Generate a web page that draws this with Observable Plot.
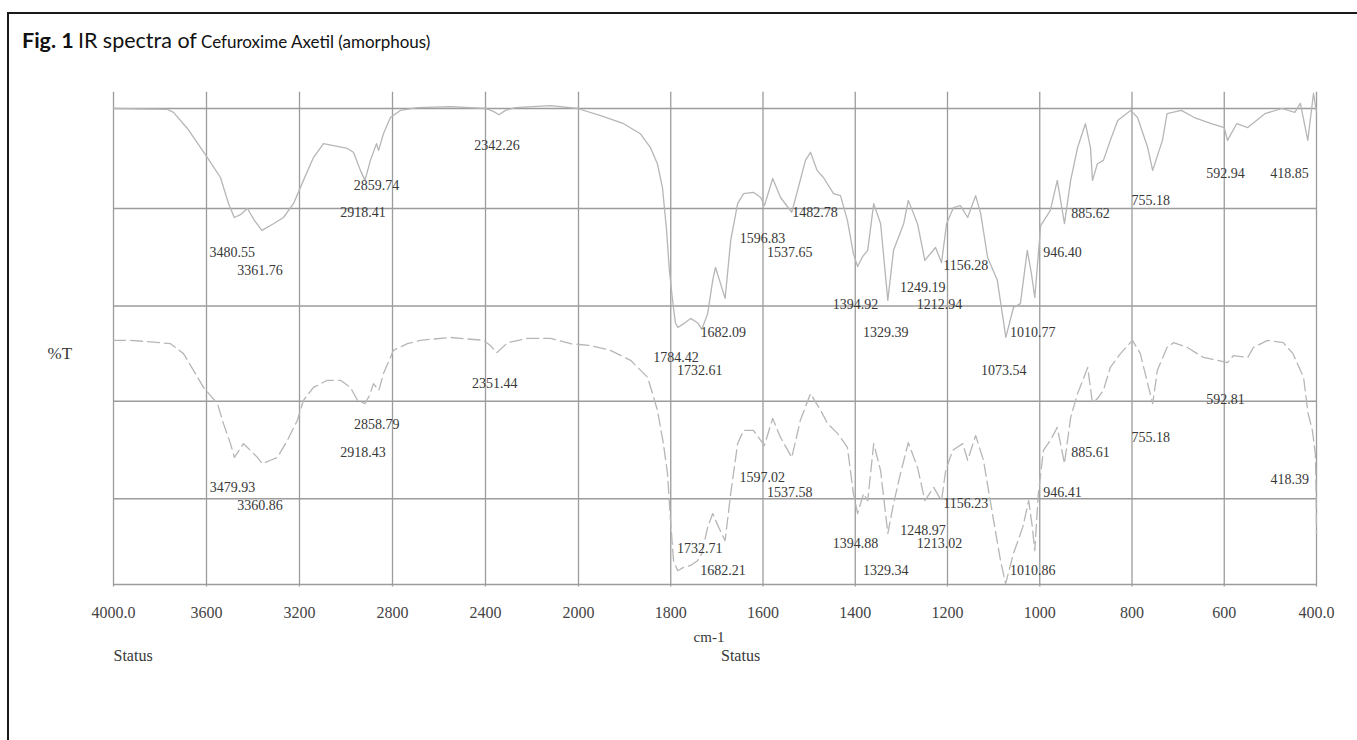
<!DOCTYPE html>
<html>
<head>
<meta charset="utf-8">
<script src="https://cdn.jsdelivr.net/npm/d3@7"></script>
<script src="https://cdn.jsdelivr.net/npm/@observablehq/plot@0.6"></script>
<style>
  html, body { margin: 0; padding: 0; background: #fff; width: 1357px; height: 740px; overflow: hidden; }
  #frame { position: absolute; left: 7px; top: 12px; width: 1400px; height: 800px; z-index: 2;
           border-top: 2px solid #1a1a1a; border-left: 2px solid #1a1a1a; pointer-events: none; }
  #title { position: absolute; left: 22px; top: 27px; font-family: Lato, "Open Sans", sans-serif;
           color: #111; white-space: nowrap; }
  #title .big { font-size: 21.5px; }
  #title .small { font-size: 17px; }
  #chart { position: absolute; left: 0; top: 70px; }
</style>
</head>
<body>
<div id="frame"></div>
<div id="title"><b class="big">Fig. 1</b> <span class="big">IR spectra of</span> <span class="small">Cefuroxime Axetil (amorphous)</span></div>
<div id="chart"></div>
<script>
// Wavenumber axis (cm-1): 4000–2000 compressed, 2000–400 expanded
const wavenumberTicks = [4000, 3600, 3200, 2800, 2400, 2000, 1800, 1600, 1400, 1200, 1000, 800, 600, 400];
const tickLabels = ["4000.0", "3600", "3200", "2800", "2400", "2000", "1800", "1600", "1400", "1200", "1000", "800", "600", "400.0"];
const gridT = [0, 18, 38.5, 58.5, 79, 100];

// Upper trace (solid)
const upperWn = [4000, 3768, 3742, 3682, 3596, 3540, 3505, 3480.55, 3454, 3424, 3394, 3361.76, 3312, 3269, 3226, 3183, 3140, 3097, 3054, 2994, 2968, 2938, 2918.41, 2895, 2869, 2859.74, 2839, 2809, 2766, 2692, 2551, 2400, 2366, 2342.26, 2314, 2271, 2121, 2004, 1952, 1902, 1866, 1844, 1829, 1818, 1809, 1803, 1796, 1790, 1784.42, 1772, 1757, 1742, 1732.61, 1720, 1709, 1703, 1692, 1682.09, 1670, 1655, 1642, 1621, 1605, 1596.83, 1579, 1562, 1537.65, 1525, 1508, 1497, 1482.78, 1469, 1447, 1432, 1417, 1404, 1394.92, 1384, 1373, 1360, 1345, 1329.39, 1317, 1295, 1285, 1265, 1249.19, 1226, 1212.94, 1202, 1187, 1172, 1156.28, 1139, 1128, 1113, 1092, 1079, 1073.54, 1057, 1042, 1027, 1018, 1010.77, 998, 977, 962, 946.40, 933, 918, 901, 890, 885.62, 875, 862, 847, 831, 803, 788, 766, 755.18, 734, 724, 693, 665, 628, 600, 592.94, 573, 549, 512, 475, 447, 435, 418.85, 406.5, 400];
const upperT = [100.0, 99.8, 99.2, 95.8, 89.7, 85.5, 80.0, 77.1, 77.7, 79.0, 76.5, 74.4, 75.8, 77.1, 80.0, 84.9, 89.7, 92.6, 92.2, 91.6, 90.8, 87.0, 84.9, 89.1, 92.6, 91.2, 94.7, 98.1, 99.6, 100.2, 100.4, 100.0, 99.4, 98.7, 99.6, 100.2, 100.6, 100.0, 98.5, 96.8, 94.7, 91.8, 88.4, 83.4, 74.4, 66.0, 59.7, 55.0, 54.0, 54.8, 55.9, 55.0, 53.6, 56.9, 63.9, 66.6, 63.2, 60.1, 72.3, 80.0, 82.1, 82.4, 81.3, 79.6, 85.3, 81.3, 78.2, 82.8, 89.1, 90.8, 87.0, 85.5, 82.1, 81.7, 76.5, 69.5, 66.8, 68.9, 70.2, 80.0, 75.8, 59.7, 70.2, 75.8, 80.7, 75.8, 68.1, 70.8, 67.6, 75.8, 79.2, 79.6, 77.1, 81.7, 77.9, 68.7, 63.9, 55.5, 51.9, 58.2, 59.0, 70.2, 65.3, 60.3, 75.4, 78.6, 84.9, 75.8, 84.9, 91.8, 96.8, 91.8, 84.9, 88.4, 89.1, 93.3, 97.5, 99.6, 98.1, 91.8, 87.0, 93.3, 98.9, 99.6, 98.1, 96.8, 96.0, 93.3, 96.8, 96.0, 98.9, 100.0, 99.2, 101.1, 93.3, 103.2, 99.2];

// Lower trace (dashed)
const lowerWn = [4000, 3927, 3798, 3755, 3699, 3656, 3613, 3553, 3527, 3497, 3479.93, 3441, 3424, 3381, 3360.86, 3325, 3295, 3252, 3209, 3183, 3140, 3080, 3024, 2981, 2951, 2918.43, 2899, 2882, 2858.79, 2839, 2796, 2736, 2680, 2551, 2409, 2379, 2351.44, 2305, 2219, 2120, 2034, 1974, 1931, 1887, 1850, 1837, 1829, 1816, 1807, 1801, 1794, 1785, 1772, 1757, 1742, 1732.71, 1720, 1709, 1696, 1682.21, 1670, 1655, 1642, 1621, 1605, 1597.02, 1579, 1562, 1537.58, 1519, 1497, 1475, 1460, 1438, 1417, 1404, 1394.88, 1382, 1373, 1360, 1345, 1329.34, 1317, 1302, 1285, 1265, 1248.97, 1230, 1213.02, 1204, 1189, 1167, 1156.23, 1139, 1122, 1100, 1085, 1074, 1057, 1037, 1024, 1016, 1010.86, 1003, 992, 977, 962, 946.41, 933, 918, 896, 885.61, 873, 862, 847, 825, 799, 782, 766, 755.18, 745, 724, 710, 680, 645, 615, 592.81, 580, 549, 537, 506, 472, 451, 428, 418.39, 409, 402.6, 401, 400];
const lowerT = [51.3, 51.3, 50.8, 50.6, 48.5, 45.0, 41.4, 38.0, 33.8, 29.6, 26.7, 29.6, 28.8, 26.7, 25.4, 26.1, 26.7, 30.3, 34.5, 38.7, 41.4, 42.9, 42.9, 41.4, 38.7, 38.0, 39.7, 42.2, 40.8, 44.3, 49.2, 50.6, 51.3, 51.9, 51.3, 50.2, 48.7, 50.8, 51.7, 51.7, 50.6, 50.2, 49.2, 47.1, 43.5, 39.3, 36.6, 29.6, 23.3, 14.1, 5.0, 2.9, 3.6, 4.0, 5.0, 6.5, 12.0, 14.9, 12.0, 9.2, 19.1, 29.6, 32.4, 32.4, 30.3, 29.2, 34.9, 30.9, 26.7, 34.5, 40.1, 36.6, 33.8, 31.7, 28.8, 19.1, 14.9, 19.1, 17.6, 29.6, 23.9, 10.7, 17.0, 23.3, 29.8, 24.6, 17.6, 20.4, 17.6, 23.9, 28.2, 29.6, 26.1, 31.3, 26.1, 13.4, 5.0, 0.2, 6.5, 12.0, 17.6, 12.0, 7.1, 19.1, 28.2, 30.3, 33.0, 25.4, 35.1, 40.1, 45.6, 38.0, 39.3, 40.8, 45.6, 48.5, 51.3, 48.5, 42.2, 38.0, 45.0, 49.8, 50.8, 49.8, 47.7, 47.1, 46.6, 48.1, 47.7, 49.8, 51.3, 50.8, 48.5, 43.5, 36.0, 32.4, 27.5, 20.4, 10.7];

// Annotated band positions and the %T height of each annotation
const upperPeaks = [3480.55, 3361.76, 2918.41, 2859.74, 2342.26, 1784.42, 1732.61, 1682.09, 1596.83, 1537.65, 1482.78, 1394.92, 1329.39, 1249.19, 1212.94, 1156.28, 1073.54, 1010.77, 946.40, 885.62, 755.18, 592.94, 418.85];
const upperLabelT = [69.7, 66.0, 78.2, 83.8, 92.2, 47.7, 45.0, 52.9, 72.7, 69.7, 78.2, 58.8, 52.9, 62.4, 58.8, 67.0, 45.0, 52.9, 69.7, 77.9, 80.7, 86.3, 86.3];
const lowerPeaks = [3479.93, 3360.86, 2918.43, 2858.79, 2351.44, 1732.71, 1682.21, 1597.02, 1537.58, 1394.88, 1329.34, 1248.97, 1213.02, 1156.23, 1010.86, 946.41, 885.61, 755.18, 592.81, 418.39];
const lowerLabelT = [20.4, 16.6, 27.7, 33.6, 42.2, 7.6, 2.9, 22.5, 19.3, 8.6, 2.9, 11.3, 8.6, 17.0, 2.9, 19.3, 27.7, 30.9, 38.9, 22.1];

const toPoints = (wn, t) => wn.map((w, i) => ({wn: w, t: t[i]}));
const upper = toPoints(upperWn, upperT);
const lower = toPoints(lowerWn, lowerT);
const peaks = [
  ...upperPeaks.map((w, i) => ({wn: w, t: upperLabelT[i]})),
  ...lowerPeaks.map((w, i) => ({wn: w, t: lowerLabelT[i]}))
];

const W = 1357, H = 620;
const mLeft = 113, mRight = 41, mTop = 38, mBottom = 106;
const plotW = W - mLeft - mRight;
// 2000 cm-1 sits at the same share of the width as on the instrument chart
const breakAt = mLeft + plotW * (465 / 1203);

const gridColor = "#9c9c9c";
const traceColor = "#b6b6b6";
const textColor = "#383838";

const chart = Plot.plot({
  width: W,
  height: H,
  marginLeft: mLeft,
  marginRight: mRight,
  marginTop: mTop,
  marginBottom: mBottom,
  x: {type: "linear", domain: [4000, 2000, 400], range: [mLeft, breakAt, W - mRight], axis: null},
  y: {domain: [0, 100], axis: null},
  style: {fontFamily: "'Liberation Serif', 'Times New Roman', serif", background: "transparent", overflow: "visible"},
  marks: [
    Plot.ruleY(gridT, {stroke: gridColor, strokeWidth: 1.4}),
    Plot.ruleX(wavenumberTicks, {y1: -0.5, y2: 103.4, stroke: gridColor, strokeWidth: 1.3}),
    Plot.line(upper, {x: "wn", y: "t", stroke: traceColor, strokeWidth: 1.3}),
    Plot.line(lower, {x: "wn", y: "t", stroke: traceColor, strokeWidth: 1.3, strokeDasharray: "12,5"}),
    Plot.text(peaks.filter(d => d.wn > 450), {
      x: "wn", y: "t", text: d => d.wn.toFixed(2), dx: -2,
      fill: textColor, fontSize: 14
    }),
    Plot.text(peaks.filter(d => d.wn <= 450), {
      x: "wn", y: "t", text: d => d.wn.toFixed(2), textAnchor: "end", dx: 1,
      fill: textColor, fontSize: 14
    }),
    Plot.text(tickLabels, {
      x: (d, i) => wavenumberTicks[i], y: 0, text: d => d, dy: 28,
      fill: "#444", fontSize: 16
    }),
    Plot.text(["%T"], {frameAnchor: "left", y: 48.5, dx: -66, textAnchor: "start", fill: textColor, fontSize: 17}),
    Plot.text(["cm-1"], {frameAnchor: "bottom", dx: -6, dy: 57, fill: textColor, fontSize: 15}),
    Plot.text(["Status"], {frameAnchor: "bottom-left", textAnchor: "start", dy: 76, fill: textColor, fontSize: 16}),
    Plot.text(["Status"], {frameAnchor: "bottom", textAnchor: "start", dx: 6, dy: 76, fill: textColor, fontSize: 16})
  ]
});

document.getElementById("chart").appendChild(chart);
</script>
</body>
</html>
